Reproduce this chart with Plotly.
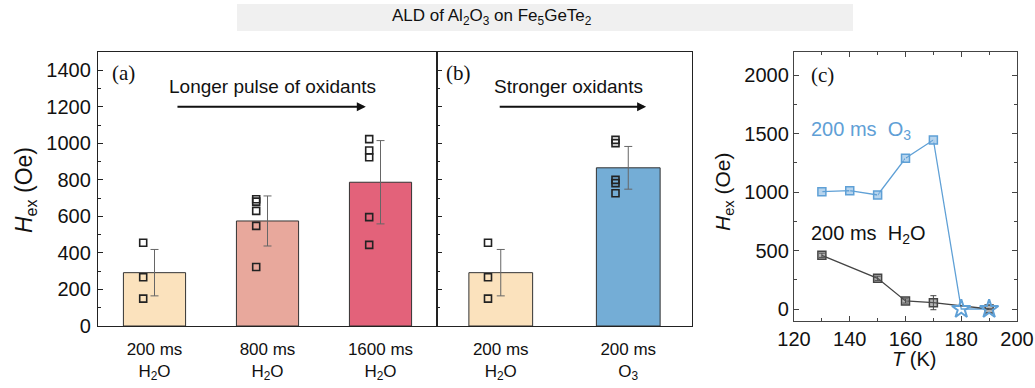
import plotly.graph_objects as go

# ---------------- data ----------------
cats_a = ["200 ms<br>H<sub>2</sub>O", "800 ms<br>H<sub>2</sub>O", "1600 ms<br>H<sub>2</sub>O"]
means_a = [292, 575, 787]
errs_a = [127, 137, 228]
colors_a = ["#FBE2BD", "#E8A89C", "#E3627A"]
pts_a = [[456, 267, 150],
         [694, 681, 630, 548, 323],
         [1023, 961, 924, 596, 444]]

cats_b = ["200 ms<br>H<sub>2</sub>O", "200 ms<br>O<sub>3</sub>"]
means_b = [292, 866]
errs_b = [127, 117]
colors_b = ["#FBE2BD", "#74ADD6"]
pts_b = [[456, 267, 150],
         [1019, 1001, 800, 782, 727]]

T_o3 = [130, 140, 150, 160, 170]
H_o3 = [1004, 1013, 976, 1290, 1447]
E_o3 = [18, 18, 18, 18, 18]
T_star = [180, 190]
H_star = [0, 0]
T_h2o = [130, 150, 160, 170, 190]
H_h2o = [460, 263, 69, 54, 0]
E_h2o = [18, 18, 18, 60, 0]

SANS = "Liberation Sans, Arial, sans-serif"
SERIF = "Liberation Serif, Times New Roman, serif"
W, H = 1035, 388

def px(x):
    return x / W

def py(y):
    return (H - y) / H

fig = go.Figure()

# ---------- panel (a) ----------
fig.add_trace(go.Bar(
    x=list(range(len(means_a))), y=means_a, width=0.55,
    marker=dict(color=colors_a, line=dict(color="#333333", width=1)),
    error_y=dict(type="data", array=errs_a, color="#666666", thickness=1, width=4),
    xaxis="x", yaxis="y", showlegend=False))
for i, pts in enumerate(pts_a):
    fig.add_trace(go.Scatter(
        x=[i - 0.1] * len(pts), y=pts, mode="markers",
        marker=dict(symbol="square-open", size=7, color="#222222", line=dict(width=1.6)),
        xaxis="x", yaxis="y", showlegend=False))

# ---------- panel (b) ----------
fig.add_trace(go.Bar(
    x=list(range(len(means_b))), y=means_b, width=0.5,
    marker=dict(color=colors_b, line=dict(color="#333333", width=1)),
    error_y=dict(type="data", array=errs_b, color="#666666", thickness=1, width=4),
    xaxis="x2", yaxis="y2", showlegend=False))
for i, pts in enumerate(pts_b):
    fig.add_trace(go.Scatter(
        x=[i - 0.1] * len(pts), y=pts, mode="markers",
        marker=dict(symbol="square-open", size=7, color="#222222", line=dict(width=1.6)),
        xaxis="x2", yaxis="y2", showlegend=False))

# ---------- panel (c) ----------
BLUE = "#5FA0D6"
GRAY = "#444444"
fig.add_trace(go.Scatter(
    x=T_o3 + T_star, y=H_o3 + H_star, mode="lines",
    line=dict(color=BLUE, width=1.3), xaxis="x3", yaxis="y3", showlegend=False))
fig.add_trace(go.Scatter(
    x=T_h2o, y=H_h2o, mode="lines+markers",
    line=dict(color=GRAY, width=1.3),
    marker=dict(symbol="square", size=8, color="rgba(90,90,90,0.45)", line=dict(color=GRAY, width=1.5)),
    error_y=dict(type="data", array=E_h2o, color=GRAY, thickness=1, width=3),
    xaxis="x3", yaxis="y3", showlegend=False))
fig.add_trace(go.Scatter(
    x=T_o3, y=H_o3, mode="markers",
    marker=dict(symbol="square", size=8, color="rgba(95,160,214,0.45)", line=dict(color=BLUE, width=1.5)),
    error_y=dict(type="data", array=E_o3, color="white", thickness=1, width=2),
    xaxis="x3", yaxis="y3", showlegend=False))
fig.add_trace(go.Scatter(
    x=T_star, y=H_star, mode="markers",
    marker=dict(symbol="star-open", size=14, color=BLUE, line=dict(width=2)),
    xaxis="x3", yaxis="y3", showlegend=False))

ax_common = dict(showline=True, linecolor="#222222", linewidth=1.3, showgrid=False,
                 zeroline=False, automargin=False)
ax_c = dict(showline=True, linecolor="#444444", linewidth=1.3, showgrid=False,
            zeroline=False, automargin=False)
tickfont_big = dict(family=SANS, size=20, color="#111111")
tickfont_cat = dict(family=SANS, size=17, color="#111111")

fig.update_layout(
    template="none",
    width=W, height=H,
    margin=dict(l=0, r=0, t=0, b=0, autoexpand=False),
    paper_bgcolor="white", plot_bgcolor="white",
    xaxis=dict(domain=[px(98), px(437)], range=[-0.5, 2.5], tickmode="array",
               tickvals=list(range(len(cats_a))), ticktext=cats_a, ticks="",
               ticklabelstandoff=7,
               mirror=True, tickfont=tickfont_cat, anchor="y", **ax_common),
    yaxis=dict(domain=[py(326), py(52)], range=[0, 1500], dtick=200, tick0=0,
               ticks="inside", ticklen=5, tickwidth=1, tickcolor="#222222",
               minor=dict(dtick=100, ticks="inside", ticklen=3, tickcolor="#222222"),
               ticklabelstandoff=2,
               mirror=True, tickfont=tickfont_big, anchor="x", **ax_common),
    xaxis2=dict(domain=[px(437), px(692)], range=[-0.5, 1.5], tickmode="array",
                tickvals=list(range(len(cats_b))), ticktext=cats_b, ticks="",
                ticklabelstandoff=7,
                mirror=True, tickfont=tickfont_cat, anchor="y2", **ax_common),
    yaxis2=dict(domain=[py(326), py(52)], range=[0, 1500], dtick=200, tick0=0,
                ticks="inside", ticklen=5, tickwidth=1, tickcolor="#222222",
                minor=dict(dtick=100, ticks="inside", ticklen=3, tickcolor="#222222"),
                showticklabels=False, mirror=True, anchor="x2", **ax_common),
    xaxis3=dict(domain=[px(794), px(1017)], range=[120, 200], dtick=20, tick0=120,
                ticks="inside", ticklen=5, tickwidth=1, tickcolor="#444444",
                minor=dict(dtick=10, ticks="inside", ticklen=3, tickcolor="#444444"),
                mirror="ticks", tickfont=tickfont_big, anchor="y3", **ax_c),
    yaxis3=dict(domain=[py(320.7), py(52)], range=[-100, 2200], dtick=500, tick0=0,
                ticks="inside", ticklen=5, tickwidth=1, tickcolor="#444444",
                minor=dict(dtick=250, ticks="inside", ticklen=3, tickcolor="#444444"),
                mirror="ticks", tickfont=tickfont_big, anchor="x3", **ax_c),
)

# title bar
fig.add_shape(type="rect", xref="paper", yref="paper",
              x0=px(237), x1=px(853), y0=py(31), y1=py(4),
              fillcolor="#F0F0F0", line=dict(width=0), layer="below")

annos = [
    dict(text="ALD of Al<sub>2</sub>O<sub>3</sub> on Fe<sub>5</sub>GeTe<sub>2</sub>",
         xref="paper", yref="paper", x=px(491.5), y=py(17),
         font=dict(family=SANS, size=17, color="#111111")),
    dict(text="<i>H</i><sub>ex</sub> (Oe)", xref="paper", yref="paper", x=px(25), y=py(190),
         textangle=-90, font=dict(family=SANS, size=23, color="#111111")),
    dict(text="<i>H</i><sub>ex</sub> (Oe)", xref="paper", yref="paper", x=px(724), y=py(192),
         textangle=-90, font=dict(family=SANS, size=21, color="#111111")),
    dict(text="<i>T</i> (K)", xref="paper", yref="paper", x=px(914), y=py(359),
         font=dict(family=SANS, size=20, color="#111111")),
    dict(text="(a)", xref="x", yref="y", x=-0.27, y=1385,
         font=dict(family=SERIF, size=21, color="#111111")),
    dict(text="Longer pulse of oxidants", xref="x", yref="y", x=1.046, y=1310,
         font=dict(family=SANS, size=19, color="#111111")),
    dict(text="(b)", xref="x2", yref="y2", x=-0.33, y=1385,
         font=dict(family=SERIF, size=21, color="#111111")),
    dict(text="Stronger oxidants", xref="x2", yref="y2", x=0.53, y=1310,
         font=dict(family=SANS, size=19, color="#111111")),
    dict(text="(c)", xref="x3", yref="y3", x=130.3, y=2000,
         font=dict(family=SERIF, size=21, color="#111111")),
    dict(text="200 ms&nbsp;&nbsp;O<sub>3</sub>", xref="x3", yref="y3", x=125.2, y=1532,
         xanchor="left", font=dict(family=SANS, size=20, color=BLUE)),
    dict(text="200 ms&nbsp;&nbsp;H<sub>2</sub>O", xref="x3", yref="y3", x=125.2, y=634,
         xanchor="left", font=dict(family=SANS, size=20, color="#111111")),
]
for a in annos:
    a.setdefault("showarrow", False)
    a.setdefault("xanchor", "center")
    a.setdefault("yanchor", "middle")
    fig.add_annotation(**a)

# arrows
fig.add_annotation(x=1.87, y=1200, ax=0.19, ay=1200, xref="x", yref="y", axref="x", ayref="y",
                   showarrow=True, arrowhead=2, arrowsize=0.9, arrowwidth=2, arrowcolor="#111111",
                   text="")
fig.add_annotation(x=1.14, y=1200, ax=-0.02, ay=1200, xref="x2", yref="y2", axref="x2", ayref="y2",
                   showarrow=True, arrowhead=2, arrowsize=0.9, arrowwidth=2, arrowcolor="#111111",
                   text="")

fig.write_html("out.html")
